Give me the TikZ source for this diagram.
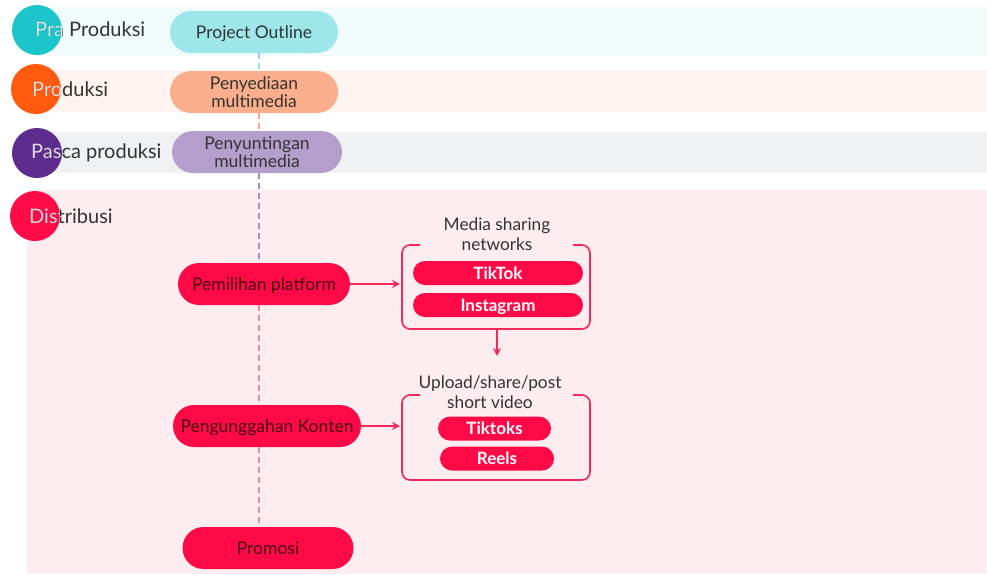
\documentclass[tikz,border=0pt]{standalone}
\usepackage{fontspec}
\setmainfont{Lato}
\usetikzlibrary{arrows.meta}
\definecolor{bandA}{HTML}{F1FBFC}
\definecolor{bandB}{HTML}{FFF4EF}
\definecolor{bandC}{HTML}{F0F1F3}
\definecolor{bandD}{HTML}{FDEDF0}
\definecolor{pillA}{HTML}{9DE7EA}
\definecolor{pillB}{HTML}{FBAE8C}
\definecolor{pillC}{HTML}{B49FCC}
\definecolor{redp}{HTML}{FF0A47}
\definecolor{lineR}{HTML}{F22A5A}
\definecolor{circA}{HTML}{1CC5C9}
\definecolor{circB}{HTML}{FF5A0F}
\definecolor{circC}{HTML}{5E2C8F}
\definecolor{circD}{HTML}{FF0B47}
\definecolor{darkT}{HTML}{333333}
\definecolor{maroonT}{HTML}{4A0012}
\definecolor{dashA}{HTML}{8FDCE3}
\definecolor{dashB}{HTML}{F7A98A}
\definecolor{dashC}{HTML}{A88BC9}
\definecolor{dashD}{HTML}{E98AA6}
\begin{document}
\begin{tikzpicture}[x=1pt,y=-1pt,
  pill/.style={rounded corners=21pt, minimum height=42pt, inner sep=0pt, align=center,
    text depth=0pt, font=\fontsize{17.5}{18}\selectfont, text=darkT},
  redpill/.style={pill, fill=redp, text=maroonT},
  minipill/.style={rounded corners=12pt, minimum height=24pt, inner sep=0pt, fill=redp,
    text depth=0pt, text=white, font=\fontsize{17}{18}\selectfont\bfseries},
  lbl/.style={anchor=west, inner sep=0pt, font=\fontsize{20}{22}\selectfont},
  circ/.style={circle, inner sep=0pt, minimum size=50pt},
  vdash/.style={dash pattern=on 6pt off 4pt, line width=1.2pt},
  frame/.style={draw=lineR, line width=1.6pt, rounded corners=8pt},
  conn/.style={draw=lineR, line width=1.6pt, -{Stealth[length=8pt,width=8pt]}},
  ttl/.style={align=center, inner sep=0pt, font=\fontsize{17.3}{20}\selectfont, text=darkT}
]
\useasboundingbox (0,0) rectangle (987,574);
\fill[white] (0,0) rectangle (987,574);
% bands
\fill[bandA] (27,7) rectangle (987,56);
\fill[bandB] (27,70) rectangle (987,112);
\fill[bandC] (27,132) rectangle (987,173);
\fill[bandD] (27,190) rectangle (987,574);

% circles and labels
\node[circ, fill=circA] (ca) at (37,30) {};
\node[circ, fill=circB] (cb) at (36,89) {};
\node[circ, fill=circC] (cc) at (37,153) {};
\node[circ, fill=circD] (cd) at (35,216) {};

\node[lbl, text=darkT] (la) at (35,29) {Pra Produksi};
\node[lbl, text=darkT] (lb) at (32,89) {Produksi};
\node[lbl, text=darkT] (lc) at (31,153) {Pasca produksi};
\node[lbl, text=darkT] (ld) at (29,216) {Distribusi};
\begin{scope}
  \clip (37,30) circle (25pt);
  \node[lbl, text=white!82!circA] (law) at (35,29) {Pra Produksi};
\end{scope}
\begin{scope}
  \clip (36,89) circle (25pt);
  \node[lbl, text=white!82!circB] (lbw) at (32,89) {Produksi};
\end{scope}
\begin{scope}
  \clip (37,153) circle (26pt);
  \node[lbl, text=white!82!circC] (lcw) at (31,153) {Pasca produksi};
\end{scope}
\begin{scope}
  \clip (35,216) circle (25pt);
  \node[lbl, text=white!82!circD] (ldw) at (29,216) {Distribusi};
\end{scope}

% pills on the spine
\node[pill, fill=pillA, minimum width=168pt] (po) at (254,32) {Project Outline};
\node[pill, fill=pillB, minimum width=168pt] (pe) at (254,92) {Penyediaan\\multimedia};
\node[pill, fill=pillC, minimum width=170pt] (ps) at (257,152) {Penyuntingan\\multimedia};
\node[redpill, minimum width=172pt] (pp) at (264,284) {Pemilihan platform};
\node[redpill, minimum width=188pt] (pk) at (267,426) {Pengunggahan Konten};
\node[redpill, minimum width=171pt] (pr) at (268,548) {Promosi};

% dashed spine
\coordinate (vx) at (259,0);
\draw[vdash, dashA] (po.south -| vx) -- (pe.north -| vx);
\draw[vdash, dashB] (pe.south -| vx) -- (ps.north -| vx);
\draw[vdash, dashC] (ps.south -| vx) -- (pp.north -| vx);
\draw[vdash, dashD] (pp.south -| vx) -- (pk.north -| vx);
\draw[vdash, dashD] (pk.south -| vx) -- (pr.north -| vx);

% box 1
\draw[frame] (420,245) -- (402,245) -- (402,329) -- (590,329) -- (590,245) -- (573,245);
\node[ttl] (t1) at (497,234) {Media sharing\\networks};
\node[minipill, minimum width=170pt] (tt) at (498,273) {TikTok};
\node[minipill, minimum width=170pt] (ig) at (498,305) {Instagram};
\coordinate (b1w) at (400,284);
\coordinate (b1s) at (497,329);
\coordinate (b1t) at (497,356);
\draw[conn] (pp.east) -- (b1w);
\draw[conn] (b1s) -- (b1t);

% box 2
\draw[frame] (420,395) -- (402,395) -- (402,480) -- (590,480) -- (590,395) -- (573,395);
\node[ttl] (t2) at (490,392) {Upload/share/post\\short video};
\node[minipill, minimum width=113pt] (tk) at (494.5,428.5) {Tiktoks};
\node[minipill, minimum width=114pt] (rl) at (497,458.5) {Reels};
\coordinate (b2w) at (400,426);
\draw[conn] (pk.east) -- (b2w);
\end{tikzpicture}
\end{document}
